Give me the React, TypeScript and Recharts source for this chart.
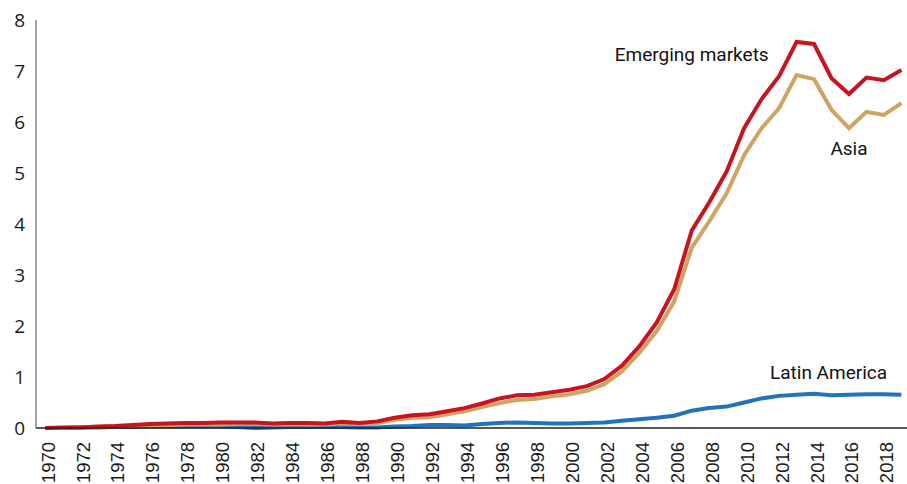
import { LineChart, Line, XAxis, YAxis, ReferenceDot } from "recharts";

const years = [
  1970, 1971, 1972, 1973, 1974, 1975, 1976, 1977, 1978, 1979,
  1980, 1981, 1982, 1983, 1984, 1985, 1986, 1987, 1988, 1989,
  1990, 1991, 1992, 1993, 1994, 1995, 1996, 1997, 1998, 1999,
  2000, 2001, 2002, 2003, 2004, 2005, 2006, 2007, 2008, 2009,
  2010, 2011, 2012, 2013, 2014, 2015, 2016, 2017, 2018, 2019,
];

const emerging = [
  0.0, 0.01, 0.01, 0.03, 0.04, 0.06, 0.08, 0.09, 0.1, 0.1,
  0.11, 0.11, 0.11, 0.09, 0.1, 0.1, 0.09, 0.12, 0.1, 0.13,
  0.2, 0.25, 0.27, 0.33, 0.39, 0.48, 0.58, 0.64, 0.65, 0.7,
  0.75, 0.82, 0.96, 1.22, 1.6, 2.07, 2.72, 3.87, 4.42, 5.03,
  5.88, 6.45, 6.9, 7.57, 7.53, 6.86, 6.55, 6.87, 6.82, 7.02,
];

const asia = [
  0.0, 0.0, 0.01, 0.02, 0.03, 0.04, 0.05, 0.06, 0.07, 0.07,
  0.07, 0.08, 0.08, 0.07, 0.07, 0.07, 0.07, 0.09, 0.08, 0.1,
  0.16, 0.2, 0.21, 0.27, 0.33, 0.41, 0.49, 0.55, 0.57, 0.62,
  0.66, 0.73, 0.86, 1.11, 1.47, 1.9, 2.48, 3.53, 4.05, 4.6,
  5.35, 5.88, 6.27, 6.92, 6.84, 6.24, 5.88, 6.2, 6.14, 6.37,
];

const latinAmerica = [
  0.0, 0.0, 0.01, 0.01, 0.02, 0.02, 0.03, 0.03, 0.03, 0.03,
  0.03, 0.02, 0.0, 0.01, 0.02, 0.02, 0.02, 0.02, 0.01, 0.01,
  0.03, 0.04, 0.06, 0.06, 0.05, 0.08, 0.1, 0.11, 0.1, 0.09,
  0.09, 0.1, 0.11, 0.14, 0.17, 0.2, 0.24, 0.34, 0.39, 0.42,
  0.5, 0.58, 0.63, 0.65, 0.67, 0.64, 0.65, 0.66, 0.66, 0.65,
];

const xTicks = years.filter((y) => y % 2 === 0 && y < 2019);
const yTicks = [0, 1, 2, 3, 4, 5, 6, 7, 8];

const data = years.map((year, i) => ({
  year,
  emerging: emerging[i],
  asia: asia[i],
  latam: latinAmerica[i],
}));

const RED = "#c8141f";
const TAN = "#d0a264";
const BLUE = "#2173bb";

// rotated year labels, sized to just fit above the bottom edge
function YearTick(props: any) {
  const { x, payload } = props;
  return (
    <text
      transform={`translate(${x + 3},${442}) rotate(-90)`}
      textAnchor="end"
      dominantBaseline="central"
      fontFamily="Liberation Sans, Arial, sans-serif"
      fontSize={18.5}
      fill="#1a1a1a"
    >
      {payload.value}
    </text>
  );
}

function SeriesLabel(props: any) {
  const { viewBox, value } = props;
  const cx = viewBox.x + viewBox.width / 2;
  const cy = viewBox.y + viewBox.height / 2;
  return (
    <text
      x={cx}
      y={cy}
      textAnchor="middle"
      dominantBaseline="central"
      fontFamily="Roboto, sans-serif"
      fontSize={19}
      fill="#111"
    >
      {value}
    </text>
  );
}

export default function App() {
  return (
    <div style={{ position: "absolute", left: 0, top: 0, background: "#fff" }}>
      <LineChart
        width={907}
        height={484}
        data={data}
        margin={{ top: 20, right: 0, bottom: 0, left: 0 }}
      >
        <XAxis
          dataKey="year"
          type="number"
          domain={[1969.48, 2019.32]}
          ticks={xTicks}
          interval={0}
          height={56}
          tickLine={false}
          axisLine={{ stroke: "#222", strokeWidth: 1.5 }}
          tick={<YearTick />}
        />
        <YAxis
          width={36}
          domain={[0, 8]}
          ticks={yTicks}
          interval={0}
          tickLine={false}
          tickMargin={5}
          axisLine={{ stroke: "#888", strokeWidth: 1.5 }}
          tick={{ fontSize: 19, fill: "#1a1a1a", fontFamily: "Open Sans" }}
        />
        <Line
          dataKey="latam"
          stroke={BLUE}
          strokeWidth={4}
          dot={false}
          isAnimationActive={false}
        />
        <Line
          dataKey="asia"
          stroke={TAN}
          strokeWidth={4}
          dot={false}
          isAnimationActive={false}
        />
        <Line
          dataKey="emerging"
          stroke={RED}
          strokeWidth={4}
          dot={false}
          isAnimationActive={false}
        />
        <ReferenceDot
          x={2007}
          y={7.33}
          r={0}
          stroke="none"
          label={<SeriesLabel value="Emerging markets" />}
        />
        <ReferenceDot
          x={2016}
          y={5.49}
          r={0}
          stroke="none"
          label={<SeriesLabel value="Asia" />}
        />
        <ReferenceDot
          x={2014.83}
          y={1.08}
          r={0}
          stroke="none"
          label={<SeriesLabel value="Latin America" />}
        />
      </LineChart>
    </div>
  );
}
